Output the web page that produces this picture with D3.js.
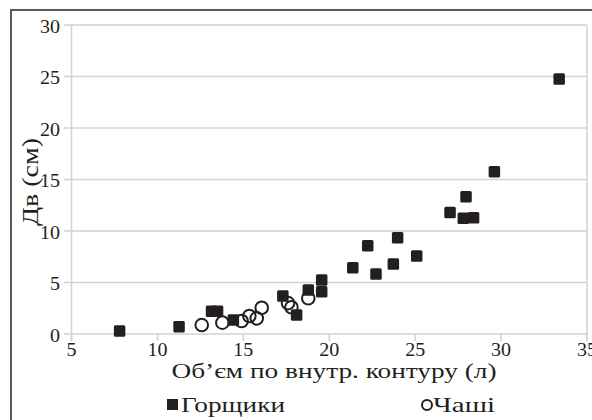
<!DOCTYPE html>
<html><head><meta charset="utf-8">
<script src="https://cdn.jsdelivr.net/npm/d3@7"></script>
<style>
html,body{margin:0;padding:0;background:#fff;}
svg{display:block;}
text{font-family:"Liberation Serif","Times New Roman",serif;fill:#231f20;}
</style></head>
<body>
<svg id="c" width="592" height="420"></svg>
<script>
// Data
const potsX = [7.8, 11.26, 13.15, 13.5, 14.42, 17.3, 18.1, 18.78, 19.56, 19.56, 21.37, 22.24, 22.72, 23.73, 23.98, 25.09, 27.03, 27.96, 27.8, 28.4, 29.61, 33.38];
const potsY = [0.3, 0.7, 2.2, 2.2, 1.36, 3.7, 1.85, 4.27, 5.24, 4.1, 6.44, 8.57, 5.83, 6.8, 9.35, 7.57, 11.8, 13.33, 11.23, 11.29, 15.76, 24.76];
const bowlsX = [12.58, 13.78, 14.9, 15.35, 15.78, 16.07, 17.6, 17.8, 18.78];
const bowlsY = [0.87, 1.1, 1.26, 1.75, 1.52, 2.55, 3.0, 2.6, 3.47];
const xTicks = [5, 10, 15, 20, 25, 30, 35];
const yTicks = [0, 5, 10, 15, 20, 25, 30];
const seriesNames = ["Горщики", "Чаші"];
const xTitle = "Об’єм по внутр. контуру (л)";
const yTitle = "Дв (см)";

const svg = d3.select("#c");
const ink = "#231f20";
const grid = "#d2d2d2";

// outer frame (top & left visible)
svg.append("rect").attr("x", 11).attr("y", 10).attr("width", 620).attr("height", 440)
  .attr("fill", "none").attr("stroke", "#5a5a5a").attr("stroke-width", 2);

const x = d3.scaleLinear().domain([5, 35]).range([71.5, 587]);
const y = d3.scaleLinear().domain([0, 30]).range([334, 25]);

// horizontal gridlines
svg.append("g").selectAll("line").data(yTicks).join("line")
  .attr("x1", 64).attr("x2", x(35))
  .attr("y1", d => y(d)).attr("y2", d => y(d))
  .attr("stroke", grid).attr("stroke-width", 1.5);
// vertical axis line and right border
svg.append("line").attr("x1", x(5)).attr("x2", x(5)).attr("y1", y(30)).attr("y2", y(0) + 7)
  .attr("stroke", grid).attr("stroke-width", 1.5);
svg.append("line").attr("x1", x(35)).attr("x2", x(35)).attr("y1", y(30)).attr("y2", y(0) + 7)
  .attr("stroke", grid).attr("stroke-width", 1.5);
// x ticks
svg.append("g").selectAll("line").data(xTicks).join("line")
  .attr("x1", d => x(d)).attr("x2", d => x(d))
  .attr("y1", y(0)).attr("y2", y(0) + 7)
  .attr("stroke", grid).attr("stroke-width", 1.5);

const digW = 10;
// tick labels
svg.append("g").selectAll("text").data(xTicks).join("text")
  .attr("x", d => x(d)).attr("y", 356)
  .attr("text-anchor", "middle").attr("font-size", 19)
  .attr("textLength", d => String(d).length * digW).attr("lengthAdjust", "spacingAndGlyphs")
  .text(d => d);
svg.append("g").selectAll("text").data(yTicks).join("text")
  .attr("x", 60).attr("y", d => y(d) + 7.5)
  .attr("text-anchor", "end").attr("font-size", 19)
  .attr("textLength", d => String(d).length * digW).attr("lengthAdjust", "spacingAndGlyphs")
  .text(d => d);

// axis titles
svg.append("text").attr("x", 334).attr("y", 378).attr("text-anchor", "middle")
  .attr("font-size", 20).attr("textLength", 325).attr("lengthAdjust", "spacingAndGlyphs")
  .text(xTitle);
svg.append("text").attr("transform", "translate(38,182) rotate(-90)")
  .attr("text-anchor", "middle").attr("font-size", 23)
  .attr("textLength", 88).attr("lengthAdjust", "spacingAndGlyphs").text(yTitle);

// bowls (circles)
const r = 6.3;
svg.append("g").selectAll("circle").data(bowlsX.map((v, i) => [v, bowlsY[i]])).join("circle")
  .attr("cx", d => x(d[0])).attr("cy", d => y(d[1])).attr("r", r)
  .attr("fill", "#fff").attr("fill-opacity", 0).attr("stroke", ink).attr("stroke-width", 2);

// pots (squares)
const s = 11.5;
svg.append("g").selectAll("rect").data(potsX.map((v, i) => [v, potsY[i]])).join("rect")
  .attr("x", d => x(d[0]) - s / 2).attr("y", d => y(d[1]) - s / 2)
  .attr("width", s).attr("height", s).attr("rx", 1.5)
  .attr("fill", ink);

// legend
svg.append("rect").attr("x", 167).attr("y", 399).attr("width", 11).attr("height", 11).attr("fill", ink);
svg.append("text").attr("x", 181).attr("y", 412).attr("font-size", 21)
  .attr("textLength", 104).attr("lengthAdjust", "spacingAndGlyphs").text(seriesNames[0]);
svg.append("circle").attr("cx", 427).attr("cy", 405).attr("r", 5).attr("fill", "none")
  .attr("stroke", ink).attr("stroke-width", 2);
svg.append("text").attr("x", 433).attr("y", 412).attr("font-size", 21)
  .attr("textLength", 62).attr("lengthAdjust", "spacingAndGlyphs").text(seriesNames[1]);
</script>
</body></html>
